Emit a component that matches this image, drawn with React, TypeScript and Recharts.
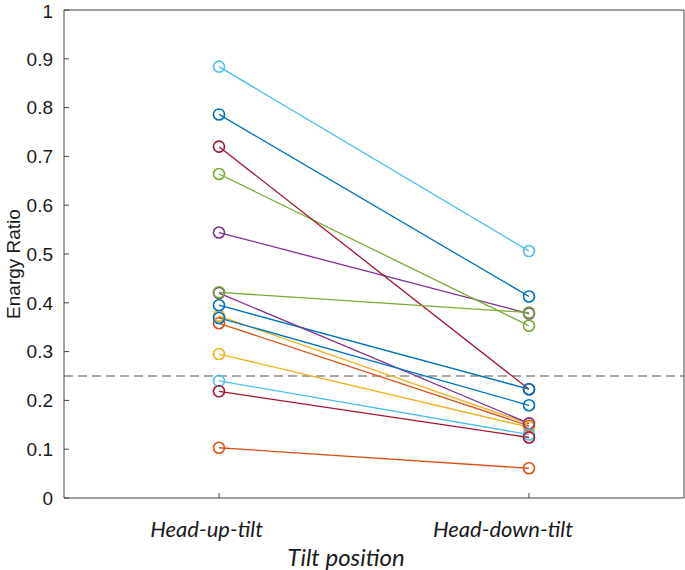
import React from 'react';
import { LineChart, Line, XAxis, YAxis, ReferenceLine, Label } from 'recharts';

// two tilt positions, one line per subject
const positions = [1, 2];
const positionNames = ['Head-up-tilt', 'Head-down-tilt'];

const headUp = [0.786, 0.358, 0.373, 0.544, 0.664, 0.884, 0.72, 0.395, 0.103, 0.295, 0.42, 0.4215, 0.24, 0.2186, 0.369];
const headDown = [0.413, 0.148, 0.152, 0.378, 0.353, 0.506, 0.223, 0.223, 0.061, 0.145, 0.153, 0.38, 0.13, 0.124, 0.19];

const palette = ['#0072BD', '#D95319', '#EDB120', '#7E2F8E', '#77AC30', '#4DBEEE', '#A2142F'];
const yTicks = [0, 0.1, 0.2, 0.3, 0.4, 0.5, 0.6, 0.7, 0.8, 0.9, 1];
const threshold = 0.25;

const data = positions.map((pos, i) => {
  const row: Record<string, number> = { pos };
  const vals = i === 0 ? headUp : headDown;
  vals.forEach((v, k) => { row[`s${k}`] = v; });
  return row;
});

const axisColor = '#444';
const tickFont = { fontFamily: 'Liberation Sans, Arial, sans-serif', fontSize: 19, fill: '#1a1a1a' };
const catFont = { fontFamily: 'Lato, sans-serif', fontSize: 22, fontStyle: 'italic', fill: '#1a1a1a' };

export default function App() {
  return (
    <div style={{ position: 'absolute', left: 0, top: 0, width: 685, height: 570, background: '#fff' }}>
      <LineChart width={685} height={570} data={data} margin={{ top: 0, right: 0, bottom: 0, left: 0 }}>
        <XAxis
          dataKey="pos"
          type="number"
          domain={[0.5, 2.5]}
          ticks={positions}
          tickFormatter={(v: number) => positionNames[v - 1]}
          height={72}
          tickSize={-5}
          tickMargin={28}
          stroke={axisColor}
          tick={{ ...catFont, textAnchor: 'end', dx: 44 }}
        >
          <Label
            value="Tilt position"
            position="insideBottom"
            offset={4}
            dx={-28}
            style={{ fontFamily: 'Lato, sans-serif', fontSize: 24, fontStyle: 'italic', fill: '#1a1a1a' }}
          />
        </XAxis>
        <XAxis
          xAxisId="top"
          orientation="top"
          dataKey="pos"
          type="number"
          domain={[0.5, 2.5]}
          ticks={positions}
          tickFormatter={() => ''}
          height={10}
          tickSize={0}
          stroke={axisColor}
        />
        <YAxis
          type="number"
          domain={[0, 1]}
          ticks={yTicks}
          width={64}
          tickSize={-5}
          tickMargin={16}
          stroke={axisColor}
          tick={tickFont}
        >
          <Label
            value="Enargy Ratio"
            angle={-90}
            position="center"
            dx={-19}
            dy={10}
            style={{ fontFamily: 'Liberation Sans, Arial, sans-serif', fontSize: 19, fill: '#1a1a1a', textAnchor: 'middle' }}
          />
        </YAxis>
        <YAxis
          yAxisId="right"
          orientation="right"
          type="number"
          domain={[0, 1]}
          ticks={yTicks}
          width={1}
          tickSize={-5}
          tickFormatter={() => ''}
          stroke={axisColor}
        />
        <ReferenceLine y={threshold} stroke="#8c8c8c" strokeWidth={1.5} strokeDasharray="9 5" />
        {headUp.map((_, k) => {
          const c = palette[k % palette.length];
          return (
            <Line
              key={k}
              dataKey={`s${k}`}
              type="linear"
              stroke={c}
              strokeWidth={1.3}
              dot={{ r: 5.5, fill: 'none', stroke: c, strokeWidth: 1.6 }}
              activeDot={false}
              isAnimationActive={false}
            />
          );
        })}
      </LineChart>
    </div>
  );
}
